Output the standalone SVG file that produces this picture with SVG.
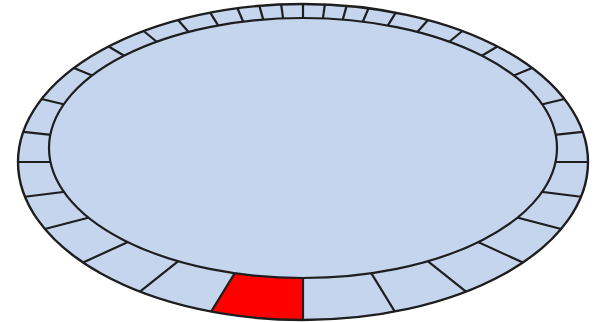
<svg xmlns="http://www.w3.org/2000/svg" width="600" height="322" viewBox="0 0 600 322">
<style>
.fill{fill:#c5d5ee}
.rim{fill:none;stroke:#1e1e1e;stroke-width:2.4}
.div line{stroke:#1e1e1e;stroke-width:2.2}
</style>
<rect width="600" height="322" fill="#ffffff"/>
<g id="ring">
<ellipse class="fill" cx="303" cy="162" rx="285" ry="158"/>
<path id="red-segment" d="M303,162 L303,320 A285,158 0 0,1 211.15,311.56 Z" fill="#ff0000"/>
<g class="div" id="dividers">
<line x1="303" y1="162" x2="303" y2="320"/>
<line x1="303" y1="162" x2="211.15" y2="311.56"/>
<line x1="303" y1="162" x2="139.95" y2="291.59"/>
<line x1="303" y1="162" x2="83.09" y2="262.5"/>
<line x1="303" y1="162" x2="44.9" y2="229.02"/>
<line x1="303" y1="162" x2="24.98" y2="196.73"/>
<line x1="303" y1="162" x2="18" y2="162"/>
<line x1="303" y1="162" x2="23.24" y2="131.85"/>
<line x1="303" y1="162" x2="41.63" y2="99"/>
<line x1="303" y1="162" x2="73.89" y2="68.02"/>
<line x1="303" y1="162" x2="108.63" y2="46.44"/>
<line x1="303" y1="162" x2="143.63" y2="31.02"/>
<line x1="303" y1="162" x2="178.06" y2="19.99"/>
<line x1="303" y1="162" x2="210.2" y2="12.61"/>
<line x1="303" y1="162" x2="237.45" y2="8.23"/>
<line x1="303" y1="162" x2="259.39" y2="5.86"/>
<line x1="303" y1="162" x2="281.14" y2="4.46"/>
<line x1="303" y1="162" x2="303" y2="4"/>
<line x1="303" y1="162" x2="324.86" y2="4.46"/>
<line x1="303" y1="162" x2="346.61" y2="5.86"/>
<line x1="303" y1="162" x2="368.55" y2="8.23"/>
<line x1="303" y1="162" x2="395.8" y2="12.61"/>
<line x1="303" y1="162" x2="427.94" y2="19.99"/>
<line x1="303" y1="162" x2="462.37" y2="31.02"/>
<line x1="303" y1="162" x2="497.37" y2="46.44"/>
<line x1="303" y1="162" x2="532.11" y2="68.02"/>
<line x1="303" y1="162" x2="564.37" y2="99"/>
<line x1="303" y1="162" x2="582.76" y2="131.85"/>
<line x1="303" y1="162" x2="588" y2="162"/>
<line x1="303" y1="162" x2="581.02" y2="196.73"/>
<line x1="303" y1="162" x2="561.1" y2="229.02"/>
<line x1="303" y1="162" x2="522.91" y2="262.5"/>
<line x1="303" y1="162" x2="466.05" y2="291.59"/>
<line x1="303" y1="162" x2="394.85" y2="311.56"/>
</g>
<ellipse id="inner" class="fill" cx="303" cy="148" rx="254" ry="130" stroke="#1e1e1e" stroke-width="2.2"/>
<ellipse id="outer-rim" class="rim" cx="303" cy="162" rx="285" ry="158"/>
</g>
</svg>
